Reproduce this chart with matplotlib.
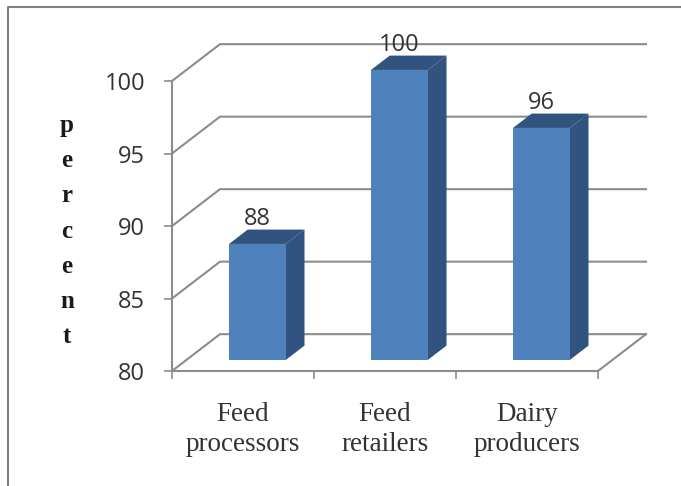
import numpy as np
import matplotlib
matplotlib.use('Agg')
import matplotlib.pyplot as plt
from matplotlib.lines import Line2D


categories = ['Feed\nprocessors', 'Feed\nretailers', 'Dairy\nproducers']
values = [88, 100, 96]
y_ticks = [80, 85, 90, 95, 100]
y_label = 'p\ne\nr\nc\ne\nn\nt'

GRID = '#8c8c8c'
FRONT = '#4f81bd'
DARK = '#30547f'
TEXT = '#333333'

# oblique depth of the chart box, in data units
DEPTH_X = 0.338
DEPTH_Y = 2.54
BAR_WIDTH = 0.40
BAR_NEAR = 0.30
BAR_FAR = 0.69


def project(x, v, depth):
    return x + depth * DEPTH_X, v + depth * DEPTH_Y


fig = plt.figure(figsize=(6.81, 4.86), dpi=100)
ax = fig.add_axes([172 / 681, 115 / 486, 426 / 681, 290 / 486])
ax.set_xlim(0, 3)
ax.set_ylim(80, 100)

# back wall gridlines plus the diagonal running along the side wall
for v in y_ticks:
    px, py = project(np.array([0, 0, 3]), np.array([v, v, v]), np.array([0, 1, 1]))
    ax.plot(px, py, color=GRID, lw=1.5, clip_on=False, zorder=1, solid_joinstyle='miter')

# right edge of the floor
px, py = project(np.array([3, 3]), np.array([80, 80]), np.array([0, 1]))
ax.plot(px, py, color=GRID, lw=1.5, clip_on=False, zorder=1)

positions = np.arange(len(values)) + 0.5
for x, v in zip(positions, values):
    x0 = x - BAR_WIDTH / 2
    x1 = x + BAR_WIDTH / 2

    # side and top faces go behind the front rectangle
    sx, sy = project(np.array([x1, x1, x1, x1]), np.array([80, v, v, 80]),
                     np.array([BAR_NEAR, BAR_NEAR, BAR_FAR, BAR_FAR]))
    ax.fill(sx, sy, color=DARK, lw=0, clip_on=False, zorder=3)
    tx, ty = project(np.array([x0, x1, x1, x0]), np.array([v, v, v, v]),
                     np.array([BAR_NEAR, BAR_NEAR, BAR_FAR, BAR_FAR]))
    ax.fill(tx, ty, color=DARK, lw=0, clip_on=False, zorder=3)

    fx, fy = project(x, 80, BAR_NEAR)
    ax.bar(fx, v - 80, width=BAR_WIDTH, bottom=fy, color=FRONT, lw=0, zorder=4, clip_on=False)

    ax.annotate(str(v), (fx, fy + v - 80), xytext=(0, 13.7), textcoords='offset points',
                ha='center', va='baseline', fontsize=17, color=TEXT,
                family='Open Sans', zorder=5, annotation_clip=False)

for side in ['top', 'right']:
    ax.spines[side].set_visible(False)
for side in ['left', 'bottom']:
    ax.spines[side].set_color(GRID)
    ax.spines[side].set_linewidth(1.5)

ax.set_yticks(y_ticks)
ax.set_yticklabels([str(t) for t in y_ticks], fontsize=17, color=TEXT, family='Open Sans')
ax.tick_params(axis='y', length=5.8, width=1.2, color=GRID, pad=13.5)

ax.set_xticks([0, 1, 2, 3])
ax.set_xticklabels([])
ax.set_xticks(positions, minor=True)
ax.set_xticklabels(categories, minor=True, fontsize=19.5, color=TEXT,
                   family='Liberation Serif', linespacing=1.3)
ax.tick_params(axis='x', which='major', length=5.8, width=1.2, color=GRID)
ax.tick_params(axis='x', which='minor', length=0, pad=22)

fig.text(67 / 681, 1 - 231 / 486, y_label, ha='center', va='center', fontsize=18,
         family='Liberation Serif', weight='bold', color='#1a1a1a', linespacing=1.67)

# thin frame along the top and left of the figure
fig.add_artist(Line2D([8 / 681, 8 / 681, 1], [0, 1 - 7 / 486, 1 - 7 / 486],
                      color='#808080', lw=1.5, transform=fig.transFigure))

fig.savefig('out.png', dpi=100)
